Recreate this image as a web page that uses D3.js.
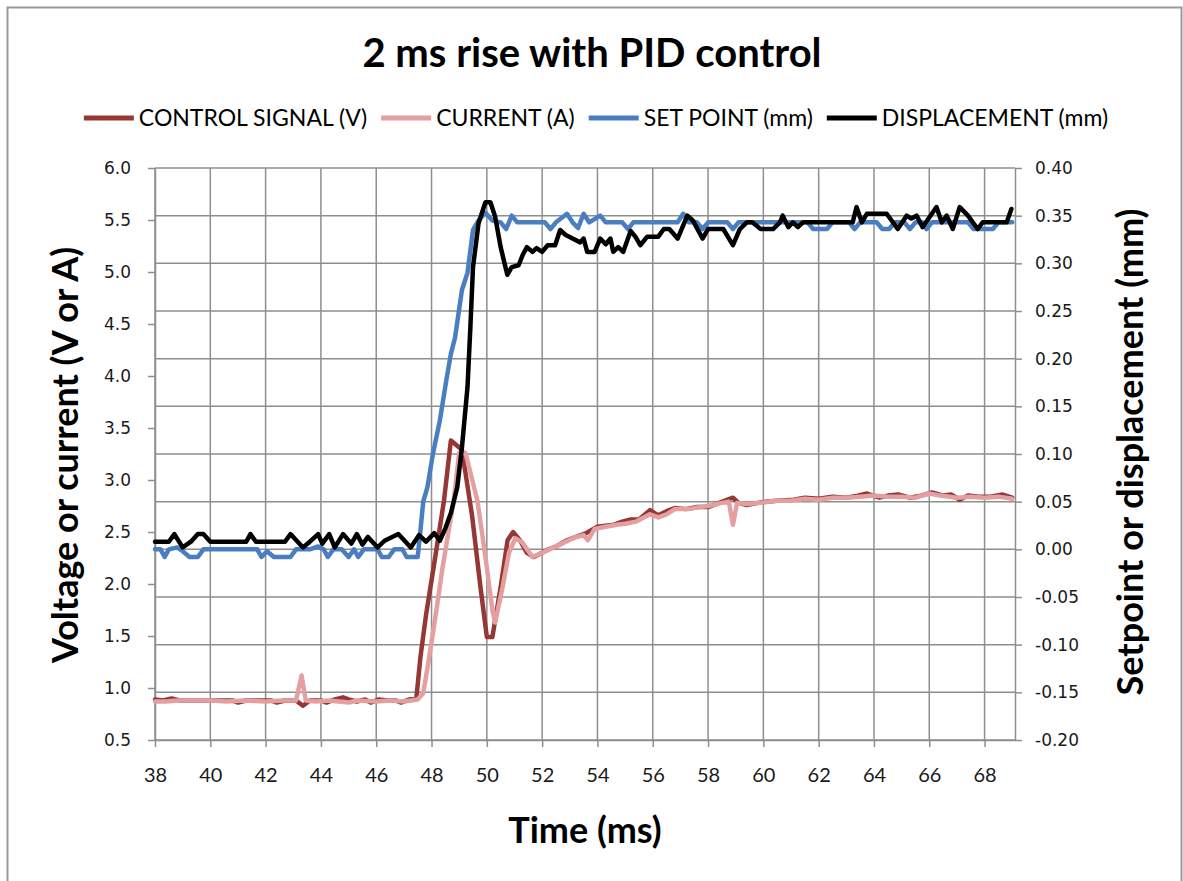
<!DOCTYPE html>
<html>
<head>
<meta charset="utf-8">
<script src="https://cdn.jsdelivr.net/npm/d3@7"></script>
<style>
  body { margin: 0; background: #fff; }
  svg { display: block; }
</style>
</head>
<body>
<div id="chart"></div>
<script>
// time ticks (ms) and axis ticks
const timeTicks = [38, 40, 42, 44, 46, 48, 50, 52, 54, 56, 58, 60, 62, 64, 66, 68];
const leftTicks = [0.5, 1.0, 1.5, 2.0, 2.5, 3.0, 3.5, 4.0, 4.5, 5.0, 5.5, 6.0];
const rightTicks = [-0.20, -0.15, -0.10, -0.05, 0.00, 0.05, 0.10, 0.15, 0.20, 0.25, 0.30, 0.35, 0.40];

// control signal (V), [time ms, value]
const controlSignal = [
  [38.0, 0.89], [38.3, 0.88], [38.6, 0.9], [38.9, 0.88], [39.4, 0.88], [40.8, 0.88], [41.0, 0.86], [41.3, 0.88],
  [42.2, 0.88], [42.4, 0.86], [42.7, 0.88], [43.1, 0.88], [43.35, 0.83], [43.6, 0.88], [44.0, 0.88], [44.2, 0.86],
  [44.5, 0.89], [44.8, 0.91], [45.0, 0.89], [45.3, 0.87], [45.6, 0.89], [45.8, 0.86], [46.1, 0.89], [46.4, 0.88],
  [46.7, 0.88], [46.9, 0.86], [47.2, 0.89], [47.45, 0.9], [47.6, 1.3], [47.8, 1.7], [48.1, 2.2], [48.45, 2.8],
  [48.7, 3.38], [49.1, 3.29], [49.47, 2.65], [49.77, 1.97], [50.0, 1.49], [50.2, 1.49], [50.5, 1.97], [50.75, 2.42],
  [50.95, 2.5], [51.2, 2.42], [51.45, 2.3], [51.7, 2.26], [52.2, 2.33], [52.5, 2.36], [52.9, 2.42], [53.2, 2.45],
  [53.6, 2.49], [54.0, 2.55], [54.3, 2.56], [54.6, 2.57], [54.9, 2.6], [55.2, 2.62], [55.5, 2.62], [55.9, 2.71],
  [56.2, 2.66], [56.5, 2.7], [56.8, 2.73], [57.2, 2.72], [57.6, 2.74], [58.0, 2.74], [58.4, 2.78], [58.9, 2.83],
  [59.1, 2.78], [59.4, 2.76], [59.8, 2.78], [60.1, 2.79], [60.5, 2.8], [61.1, 2.81], [61.5, 2.83], [62.0, 2.82],
  [62.5, 2.84], [63.0, 2.83], [63.4, 2.85], [63.75, 2.87], [64.2, 2.83], [64.5, 2.85], [64.9, 2.86], [65.3, 2.83],
  [65.7, 2.85], [66.1, 2.88], [66.5, 2.85], [66.8, 2.86], [67.1, 2.81], [67.4, 2.85], [67.8, 2.84], [68.2, 2.84],
  [68.65, 2.86], [69.0, 2.83]
];

// current (A)
const current = [
  [38.0, 0.87], [38.4, 0.87], [38.8, 0.88], [40.0, 0.88], [40.6, 0.87], [41.2, 0.88], [42.0, 0.87], [42.6, 0.88],
  [43.1, 0.88], [43.3, 1.12], [43.45, 0.88], [43.8, 0.87], [44.3, 0.88], [45.0, 0.86], [45.3, 0.88], [46.0, 0.87],
  [46.5, 0.88], [47.0, 0.87], [47.5, 0.89], [47.7, 0.95], [47.9, 1.27], [48.15, 1.7], [48.4, 2.16], [48.8, 2.8],
  [49.0, 3.26], [49.23, 3.26], [49.66, 2.8], [49.95, 2.26], [50.2, 1.75], [50.3, 1.63], [50.57, 1.97], [50.8, 2.3],
  [51.03, 2.44], [51.28, 2.4], [51.65, 2.26], [52.0, 2.3], [52.4, 2.35], [52.8, 2.4], [53.2, 2.45], [53.5, 2.47],
  [53.65, 2.42], [53.9, 2.53], [54.3, 2.55], [54.7, 2.57], [55.0, 2.58], [55.4, 2.6], [55.9, 2.67], [56.2, 2.64],
  [56.5, 2.67], [56.8, 2.72], [57.3, 2.72], [57.7, 2.74], [58.0, 2.75], [58.5, 2.78], [58.75, 2.79], [58.9, 2.57],
  [59.05, 2.78], [59.4, 2.77], [59.9, 2.78], [60.4, 2.8], [61.0, 2.8], [61.5, 2.82], [62.0, 2.81], [62.5, 2.83],
  [63.0, 2.83], [63.5, 2.84], [64.0, 2.85], [64.5, 2.84], [65.0, 2.84], [65.5, 2.83], [66.0, 2.87], [66.4, 2.85],
  [67.0, 2.83], [67.5, 2.84], [68.0, 2.83], [68.5, 2.84], [69.0, 2.82]
];

// set point (mm), right axis
const setPoint = [
  [38.0, 0.0], [38.2, 0.0], [38.35, -0.008], [38.5, 0.0], [38.8, 0.002], [39.0, -0.002], [39.25, -0.008], [39.55, -0.008],
  [39.75, 0.0], [41.7, 0.0], [41.85, -0.008], [42.05, -0.002], [42.3, -0.008], [42.9, -0.008], [43.1, 0.0], [43.6, 0.0],
  [43.9, 0.003], [44.1, 0.0], [44.25, -0.008], [44.45, 0.0], [44.75, 0.0], [45.0, -0.008], [45.2, 0.0], [45.35, -0.008],
  [45.55, 0.0], [46.05, 0.0], [46.2, -0.008], [46.45, -0.008], [46.65, 0.0], [46.95, 0.0], [47.1, -0.008], [47.5, -0.008],
  [47.6, 0.02], [47.7, 0.05], [47.85, 0.065], [48.05, 0.1], [48.3, 0.135], [48.55, 0.18], [48.7, 0.205], [48.85, 0.222],
  [49.1, 0.272], [49.3, 0.29], [49.5, 0.335], [49.7, 0.345], [49.95, 0.353], [50.2, 0.345], [50.5, 0.343], [50.7, 0.336],
  [50.9, 0.35], [51.1, 0.343], [52.1, 0.343], [52.3, 0.336], [52.5, 0.343], [52.9, 0.352], [53.1, 0.343], [53.3, 0.337],
  [53.5, 0.352], [53.7, 0.343], [54.1, 0.35], [54.3, 0.343], [54.9, 0.343], [55.1, 0.336], [55.3, 0.343], [56.9, 0.343],
  [57.1, 0.352], [57.3, 0.343], [57.6, 0.343], [57.8, 0.336], [58.0, 0.343], [58.7, 0.343], [58.9, 0.336], [59.1, 0.343],
  [61.6, 0.343], [61.8, 0.336], [62.3, 0.336], [62.5, 0.343], [63.1, 0.343], [63.3, 0.336], [63.5, 0.343], [64.1, 0.343],
  [64.3, 0.336], [64.55, 0.336], [64.75, 0.343], [65.1, 0.343], [65.3, 0.336], [65.5, 0.343], [65.75, 0.343], [65.9, 0.336],
  [66.1, 0.343], [67.4, 0.343], [67.6, 0.336], [68.3, 0.336], [68.5, 0.343], [69.0, 0.343]
];

// displacement (mm), right axis
const displacement = [
  [38.0, 0.008], [38.5, 0.008], [38.7, 0.016], [39.0, 0.002], [39.3, 0.008], [39.55, 0.016], [39.75, 0.016], [40.0, 0.008],
  [41.3, 0.008], [41.45, 0.016], [41.65, 0.008], [42.7, 0.008], [42.9, 0.016], [43.35, 0.002], [43.6, 0.008], [43.9, 0.016],
  [44.05, 0.006], [44.3, 0.016], [44.5, 0.002], [44.8, 0.016], [45.1, 0.006], [45.3, 0.016], [45.5, 0.005], [45.7, 0.013],
  [46.05, 0.002], [46.3, 0.009], [46.8, 0.016], [47.25, 0.002], [47.55, 0.015], [47.8, 0.008], [48.1, 0.017], [48.3, 0.009],
  [48.5, 0.022], [48.7, 0.038], [48.93, 0.065], [49.1, 0.107], [49.3, 0.17], [49.4, 0.23], [49.5, 0.296], [49.7, 0.342],
  [49.95, 0.364], [50.13, 0.364], [50.3, 0.349], [50.5, 0.317], [50.74, 0.288], [50.9, 0.296], [51.15, 0.298], [51.3, 0.309],
  [51.45, 0.317], [51.65, 0.312], [51.8, 0.316], [52.0, 0.312], [52.2, 0.319], [52.47, 0.319], [52.65, 0.335], [52.84, 0.33],
  [53.1, 0.326], [53.38, 0.322], [53.5, 0.326], [53.63, 0.312], [53.9, 0.312], [54.1, 0.326], [54.3, 0.32], [54.47, 0.326],
  [54.57, 0.312], [54.75, 0.317], [54.93, 0.312], [55.2, 0.334], [55.37, 0.328], [55.55, 0.319], [55.8, 0.328], [56.2, 0.328],
  [56.4, 0.336], [56.6, 0.336], [56.9, 0.326], [57.25, 0.35], [57.45, 0.345], [57.8, 0.326], [58.0, 0.336], [58.55, 0.336],
  [58.9, 0.319], [59.15, 0.336], [59.4, 0.343], [59.6, 0.343], [59.9, 0.336], [60.35, 0.336], [60.6, 0.343], [60.7, 0.35],
  [60.9, 0.338], [61.07, 0.343], [61.25, 0.338], [61.43, 0.343], [63.23, 0.343], [63.37, 0.359], [63.56, 0.343], [63.74, 0.352],
  [64.46, 0.352], [64.86, 0.336], [65.18, 0.35], [65.35, 0.347], [65.54, 0.35], [65.76, 0.338], [66.0, 0.348], [66.26, 0.359],
  [66.45, 0.343], [66.63, 0.35], [66.85, 0.336], [67.1, 0.359], [67.4, 0.35], [67.75, 0.336], [67.93, 0.343], [68.8, 0.343],
  [68.97, 0.357]
];

const seriesNames = ["CONTROL SIGNAL (V)", "CURRENT (A)", "SET POINT (mm)", "DISPLACEMENT (mm)"];
const seriesColors = ["#953735", "#E4A0A0", "#4A7EC0", "#000000"];

const width = 1183, height = 881;
const plot = { left: 155, right: 1015, top: 168, bottom: 740 };
const labelFont = "Lato, 'Open Sans', sans-serif";
const numFont = "'DejaVu Sans', Verdana, sans-serif";
const gridColor = "#8e8e8e";

const svg = d3.select("#chart").append("svg")
    .attr("width", width)
    .attr("height", height);

// outer frame
svg.append("rect")
    .attr("x", 7.5).attr("y", 7.5)
    .attr("width", 1174).attr("height", 900)
    .attr("fill", "#fff")
    .attr("stroke", "#999").attr("stroke-width", 2);

const x = d3.scaleLinear().domain([38, 69.1]).range([plot.left, plot.right]);
const yL = d3.scaleLinear().domain([0.5, 6.0]).range([plot.bottom, plot.top]);
const yR = d3.scaleLinear().domain([-0.2, 0.4]).range([plot.bottom, plot.top]);

// gridlines (horizontal follow the secondary axis)
const grid = svg.append("g").attr("stroke", gridColor).attr("stroke-width", 1.5);
grid.selectAll("line.h").data(rightTicks).enter().append("line")
    .attr("x1", plot.left).attr("x2", plot.right)
    .attr("y1", d => yR(d)).attr("y2", d => yR(d));
grid.selectAll("line.v").data(timeTicks).enter().append("line")
    .attr("x1", d => x(d)).attr("x2", d => x(d))
    .attr("y1", plot.top).attr("y2", plot.bottom);

// axes
function styleAxis(g, font, size) {
    g.select(".domain").attr("stroke", gridColor).attr("stroke-width", 1.5);
    g.selectAll(".tick line").attr("stroke", gridColor).attr("stroke-width", 1.5);
    g.selectAll(".tick text").attr("fill", "#1a1a1a")
        .style("font-family", font).style("font-size", size + "px");
}

svg.append("g")
    .attr("transform", `translate(0,${plot.bottom})`)
    .call(d3.axisBottom(x).tickValues(timeTicks).tickSize(7).tickSizeOuter(0).tickPadding(21).tickFormat(d3.format("d")))
    .call(g => styleAxis(g, labelFont, 20));

svg.append("g")
    .attr("transform", `translate(${plot.left},0)`)
    .call(d3.axisLeft(yL).tickValues(leftTicks).tickSize(7).tickSizeOuter(0).tickPadding(17).tickFormat(d => d.toFixed(1)))
    .call(g => styleAxis(g, numFont, 17));

svg.append("g")
    .attr("transform", `translate(${plot.right},0)`)
    .call(d3.axisRight(yR).tickValues(rightTicks).tickSize(7).tickSizeOuter(0).tickPadding(13).tickFormat(d => d.toFixed(2)))
    .call(g => styleAxis(g, numFont, 17));

// series
const lineL = d3.line().x(d => x(d[0])).y(d => yL(d[1]));
const lineR = d3.line().x(d => x(d[0])).y(d => yR(d[1]));
const series = [
    { data: controlSignal, line: lineL },
    { data: current, line: lineL },
    { data: setPoint, line: lineR },
    { data: displacement, line: lineR }
];
svg.append("g").selectAll("path")
    .data(series)
    .enter()
    .append("path")
    .attr("fill", "none")
    .attr("stroke", (d, i) => seriesColors[i])
    .attr("stroke-width", 4.5)
    .attr("stroke-linejoin", "round")
    .attr("stroke-linecap", "round")
    .attr("d", d => d.line(d.data));

// title
svg.append("text")
    .attr("x", 592).attr("y", 67)
    .attr("text-anchor", "middle")
    .style("font-family", labelFont).style("font-weight", "bold").style("font-size", "40px")
    .text("2 ms rise with PID control");

// legend
const legend = svg.append("g");
let lx = 0;
seriesNames.forEach((name, i) => {
    const item = legend.append("g").attr("transform", `translate(${lx},0)`);
    item.append("line")
        .attr("x1", 0).attr("x2", 50).attr("y1", 0).attr("y2", 0)
        .attr("stroke", seriesColors[i]).attr("stroke-width", 5);
    const t = item.append("text")
        .attr("x", 55).attr("y", 8)
        .style("font-family", labelFont).style("font-size", "23px")
        .text(name);
    lx += 55 + t.node().getComputedTextLength() + 14;
});
legend.attr("transform", `translate(${596 - (lx - 14) / 2},118)`);

// axis titles
svg.append("text")
    .attr("transform", "translate(78,455) rotate(-90)")
    .attr("text-anchor", "middle")
    .style("font-family", labelFont).style("font-weight", "bold").style("font-size", "36px")
    .text("Voltage or current (V or A)");

svg.append("text")
    .attr("transform", "translate(1143,452) rotate(-90)")
    .attr("text-anchor", "middle")
    .style("font-family", labelFont).style("font-weight", "bold").style("font-size", "36px")
    .text("Setpoint or displacement (mm)");

svg.append("text")
    .attr("x", 585).attr("y", 843)
    .attr("text-anchor", "middle")
    .style("font-family", labelFont).style("font-weight", "bold").style("font-size", "36px")
    .text("Time (ms)");
</script>
</body>
</html>
